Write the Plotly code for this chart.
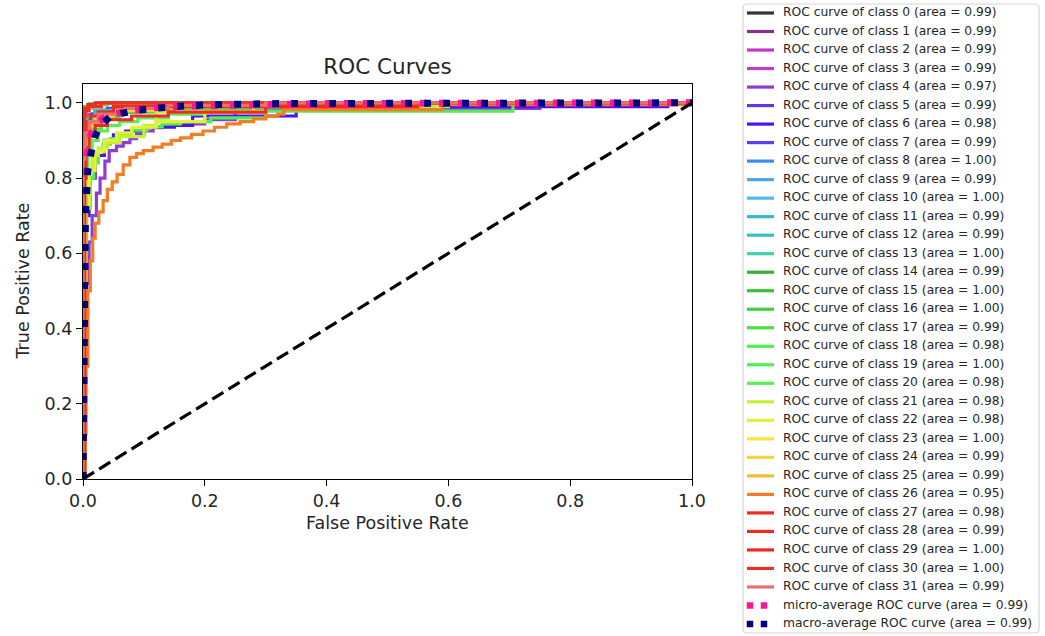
import plotly.graph_objects as go

# ---------------- data ----------------
class_areas = ["0.99", "0.99", "0.99", "0.99", "0.97", "0.99", "0.98", "0.99",
               "1.00", "0.99", "1.00", "0.99", "0.99", "1.00", "0.99", "1.00",
               "1.00", "0.99", "0.98", "1.00", "0.98", "0.98", "0.98", "1.00",
               "0.99", "0.99", "0.95", "0.98", "0.99", "1.00", "1.00", "0.99"]
micro_area = "0.99"
macro_area = "0.99"

fpr_0 = [0, 0, 0.005, 0.02, 0.06, 0.15, 1]
tpr_0 = [0, 0.9, 0.95, 0.97, 0.985, 1, 1]
fpr_1 = [0, 0, 0.003, 0.01, 0.03, 0.08, 0.2, 1]
tpr_1 = [0, 0.85, 0.93, 0.96, 0.98, 0.99, 1, 1]
fpr_2 = [0, 0, 0.002, 0.008, 0.02, 0.05, 0.12, 1]
tpr_2 = [0, 0.88, 0.94, 0.97, 0.98, 0.99, 1, 1]
fpr_3 = [0, 0, 0.004, 0.012, 0.04, 0.1, 0.25, 1]
tpr_3 = [0, 0.8, 0.9, 0.95, 0.975, 0.99, 1, 1]
fpr_4 = [0, 0, 0.005, 0.01, 0.015, 0.022, 0.028, 0.036, 0.043, 0.055, 0.066, 0.077,
         0.088, 0.1, 0.115, 0.13, 0.143, 0.2, 0.25, 0.75, 1]
tpr_4 = [0, 0.35, 0.52, 0.63, 0.7, 0.76, 0.8, 0.845, 0.873, 0.885, 0.894, 0.905,
         0.917, 0.925, 0.934, 0.94, 0.944, 0.955, 0.985, 1, 1]
fpr_5 = [0, 0, 0.003, 0.01, 0.025, 0.06, 0.15, 0.3, 1]
tpr_5 = [0, 0.8, 0.9, 0.94, 0.965, 0.98, 0.99, 1, 1]
fpr_6 = [0, 0, 0.004, 0.01, 0.02, 0.035, 0.05, 0.07, 0.1, 0.15, 0.18, 0.35, 0.96, 1]
tpr_6 = [0, 0.5, 0.7, 0.8, 0.86, 0.9, 0.915, 0.925, 0.935, 0.94, 0.965, 0.99, 1, 1]
fpr_7 = [0, 0, 0.002, 0.006, 0.015, 0.04, 0.1, 0.22, 1]
tpr_7 = [0, 0.86, 0.92, 0.95, 0.97, 0.985, 0.995, 1, 1]
fpr_8 = [0, 0, 0.001, 0.003, 0.01, 0.03, 1]
tpr_8 = [0, 0.95, 0.98, 0.99, 0.995, 1, 1]
fpr_9 = [0, 0, 0.003, 0.008, 0.02, 0.05, 0.12, 1]
tpr_9 = [0, 0.87, 0.93, 0.96, 0.975, 0.99, 1, 1]
fpr_10 = [0, 0, 0.002, 0.005, 0.015, 0.04, 1]
tpr_10 = [0, 0.93, 0.97, 0.985, 0.995, 1, 1]
fpr_11 = [0, 0, 0.004, 0.01, 0.03, 0.07, 0.18, 1]
tpr_11 = [0, 0.84, 0.92, 0.955, 0.975, 0.99, 1, 1]
fpr_12 = [0, 0, 0.002, 0.007, 0.02, 0.06, 0.15, 1]
tpr_12 = [0, 0.88, 0.935, 0.96, 0.98, 0.99, 1, 1]
fpr_13 = [0, 0, 0.001, 0.004, 0.012, 0.03, 1]
tpr_13 = [0, 0.94, 0.975, 0.99, 0.996, 1, 1]
fpr_14 = [0, 0, 0.003, 0.009, 0.025, 0.07, 0.2, 1]
tpr_14 = [0, 0.83, 0.91, 0.95, 0.975, 0.99, 1, 1]
fpr_15 = [0, 0, 0.002, 0.005, 0.012, 0.035, 1]
tpr_15 = [0, 0.92, 0.965, 0.985, 0.995, 1, 1]
fpr_16 = [0, 0, 0.001, 0.004, 0.01, 0.025, 1]
tpr_16 = [0, 0.95, 0.98, 0.99, 0.997, 1, 1]
fpr_17 = [0, 0, 0.004, 0.012, 0.03, 0.06, 0.12, 0.3, 1]
tpr_17 = [0, 0.78, 0.88, 0.93, 0.96, 0.975, 0.985, 1, 1]
fpr_18 = [0, 0, 0.006, 0.012, 0.018, 0.025, 0.033, 0.045, 0.06, 0.08, 0.105, 0.13,
          0.16, 0.21, 0.3, 0.706, 1]
tpr_18 = [0, 0.6, 0.72, 0.8, 0.84, 0.87, 0.89, 0.905, 0.917, 0.927, 0.936, 0.944,
          0.95, 0.96, 0.978, 1, 1]
fpr_19 = [0, 0, 0.002, 0.006, 0.015, 0.04, 1]
tpr_19 = [0, 0.92, 0.965, 0.985, 0.995, 1, 1]
fpr_20 = [0, 0, 0.003, 0.008, 0.015, 0.025, 0.04, 0.06, 0.09, 0.14, 0.2, 0.28, 0.5, 1]
tpr_20 = [0, 0.7, 0.8, 0.86, 0.9, 0.925, 0.94, 0.95, 0.96, 0.97, 0.975, 0.99, 1, 1]
fpr_21 = [0, 0, 0.003, 0.008, 0.015, 0.025, 0.04, 0.06, 0.1, 0.12, 0.3, 0.6, 1]
tpr_21 = [0, 0.65, 0.76, 0.82, 0.86, 0.88, 0.895, 0.91, 0.94, 0.975, 0.99, 1, 1]
fpr_22 = [0, 0.004, 0.01, 0.02, 0.035, 0.055, 0.08, 0.12, 0.2, 0.28, 1]
tpr_22 = [0, 0.72, 0.82, 0.87, 0.9, 0.92, 0.935, 0.95, 0.975, 1, 1]
fpr_23 = [0, 0, 0.002, 0.005, 0.012, 0.03, 1]
tpr_23 = [0, 0.93, 0.97, 0.985, 0.995, 1, 1]
fpr_24 = [0, 0, 0.003, 0.008, 0.02, 0.05, 0.12, 0.25, 1]
tpr_24 = [0, 0.82, 0.9, 0.94, 0.965, 0.98, 0.99, 1, 1]
fpr_25 = [0, 0, 0.003, 0.01, 0.025, 0.06, 0.15, 0.3, 1]
tpr_25 = [0, 0.84, 0.91, 0.945, 0.97, 0.985, 0.995, 1, 1]
fpr_26 = [0, 0.003, 0.005, 0.008, 0.012, 0.016, 0.02, 0.026, 0.033, 0.04, 0.048,
          0.056, 0.066, 0.077, 0.088, 0.099, 0.115, 0.13, 0.145, 0.16, 0.178, 0.197,
          0.216, 0.236, 0.258, 0.28, 0.3, 0.32, 0.33, 0.59, 1]
tpr_26 = [0, 0.12, 0.3, 0.5, 0.58, 0.64, 0.68, 0.71, 0.74, 0.77, 0.79,
          0.81, 0.835, 0.855, 0.865, 0.873, 0.882, 0.89, 0.9, 0.907, 0.916, 0.925,
          0.935, 0.944, 0.95, 0.957, 0.964, 0.97, 0.982, 0.995, 1]
fpr_27 = [0, 0.003, 0.005, 0.01, 0.02, 0.04, 0.08, 0.14, 0.3, 0.55, 1]
tpr_27 = [0, 0.8, 0.88, 0.92, 0.94, 0.955, 0.965, 0.975, 0.99, 1, 1]
fpr_28 = [0, 0, 0.003, 0.006, 0.012, 0.025, 0.05, 0.3, 1]
tpr_28 = [0, 0.85, 0.92, 0.95, 0.965, 0.975, 0.99, 1, 1]
fpr_29 = [0, 0, 0.001, 0.003, 0.008, 0.02, 1]
tpr_29 = [0, 0.94, 0.97, 0.985, 0.995, 1, 1]
fpr_30 = [0, 0, 0.002, 0.005, 0.01, 0.03, 1]
tpr_30 = [0, 0.93, 0.965, 0.98, 0.99, 1, 1]
fpr_31 = [0, 0, 0.003, 0.01, 0.025, 0.07, 0.14, 0.3, 1]
tpr_31 = [0, 0.85, 0.92, 0.95, 0.97, 0.985, 0.993, 1, 1]

micro_fpr = [0, 0.001, 0.003, 0.007, 0.014, 0.025, 0.04, 0.07, 0.11, 0.16, 0.25, 0.4, 1]
micro_tpr = [0, 0.55, 0.78, 0.87, 0.92, 0.95, 0.965, 0.978, 0.986, 0.991, 0.995, 0.998, 1]
macro_fpr = [0, 0.002, 0.004, 0.008, 0.017, 0.028, 0.046, 0.085, 0.115, 0.15, 0.21, 0.32, 1]
macro_tpr = [0, 0.45, 0.7, 0.82, 0.9, 0.94, 0.965, 0.98, 0.985, 0.99, 0.995, 0.998, 1]

chance_x = [0, 1]
chance_y = [0, 1]

x_ticks = [0.0, 0.2, 0.4, 0.6, 0.8, 1.0]
y_ticks = [0.0, 0.2, 0.4, 0.6, 0.8, 1.0]

class_fprs = [fpr_0, fpr_1, fpr_2, fpr_3, fpr_4, fpr_5, fpr_6, fpr_7, fpr_8, fpr_9,
              fpr_10, fpr_11, fpr_12, fpr_13, fpr_14, fpr_15, fpr_16, fpr_17, fpr_18,
              fpr_19, fpr_20, fpr_21, fpr_22, fpr_23, fpr_24, fpr_25, fpr_26, fpr_27,
              fpr_28, fpr_29, fpr_30, fpr_31]
class_tprs = [tpr_0, tpr_1, tpr_2, tpr_3, tpr_4, tpr_5, tpr_6, tpr_7, tpr_8, tpr_9,
              tpr_10, tpr_11, tpr_12, tpr_13, tpr_14, tpr_15, tpr_16, tpr_17, tpr_18,
              tpr_19, tpr_20, tpr_21, tpr_22, tpr_23, tpr_24, tpr_25, tpr_26, tpr_27,
              tpr_28, tpr_29, tpr_30, tpr_31]

# ---------------- styles ----------------
class_colors = ["#333333", "#87308a", "#c435c4", "#bf3cc8", "#8e3cd2", "#6236e2",
                "#4a14f2", "#5c3cf4", "#3a8ef2", "#48a8f2", "#4cbce8", "#38b6d0",
                "#38bec4", "#48cdb0", "#3aae3a", "#38c038", "#44d044", "#4ce040",
                "#50ee50", "#50ee50", "#5aee50", "#c2f234", "#e4f034", "#f6e43a",
                "#f8d23a", "#f8bc30", "#f47c24", "#ee2a22", "#ee2a22", "#ec2a22",
                "#ea3028", "#e87070"]
micro_color = "#ff1493"
macro_color = "#000080"
FONT = "DejaVu Sans"
TXT = "#262626"

W, H = 1045, 636
# main axes pixel box
PX_L, PX_R, PX_T, PX_B = 83, 692, 84, 479
# legend box pixel box
LG_L, LG_R, LG_T, LG_B = 743, 1039, 4, 633
ROW0, ROWSTEP = 13, 18.52


def fx(px):
    return px / W


def fy(py):
    return 1 - py / H


fig = go.Figure()

for i in range(len(class_fprs)):
    fig.add_trace(go.Scatter(
        x=class_fprs[i], y=class_tprs[i], mode="lines", line_shape="hv",
        line=dict(color=class_colors[i], width=3.2), showlegend=False,
        hoverinfo="skip", xaxis="x", yaxis="y"))

fig.add_trace(go.Scatter(x=micro_fpr, y=micro_tpr, mode="lines",
                         line=dict(color=micro_color, width=7, dash="7px,12px"),
                         showlegend=False, hoverinfo="skip"))
fig.add_trace(go.Scatter(x=macro_fpr, y=macro_tpr, mode="lines",
                         line=dict(color=macro_color, width=7, dash="7px,12px"),
                         showlegend=False, hoverinfo="skip"))
fig.add_trace(go.Scatter(x=chance_x, y=chance_y, mode="lines",
                         line=dict(color="black", width=3.2, dash="13px,6px"),
                         showlegend=False, hoverinfo="skip"))

# ---------------- hand-built legend (auxiliary axes) ----------------
labels = ["ROC curve of class %d (area = %s)" % (i, a) for i, a in enumerate(class_areas)]
labels += ["micro-average ROC curve (area = %s)" % micro_area,
           "macro-average ROC curve (area = %s)" % macro_area]
rows = list(range(len(labels)))

for i in range(len(class_areas)):
    fig.add_trace(go.Scatter(x=[4, 31], y=[rows[i], rows[i]], mode="lines",
                             line=dict(color=class_colors[i], width=3.2),
                             showlegend=False, hoverinfo="skip", xaxis="x2", yaxis="y2"))
n = len(class_areas)
fig.add_trace(go.Scatter(x=[7, 21], y=[rows[n], rows[n]], mode="markers",
                         marker=dict(color=micro_color, size=6.5, symbol="square"),
                         showlegend=False, hoverinfo="skip", xaxis="x2", yaxis="y2"))
fig.add_trace(go.Scatter(x=[7, 21], y=[rows[n + 1], rows[n + 1]], mode="markers",
                         marker=dict(color=macro_color, size=6.5, symbol="square"),
                         showlegend=False, hoverinfo="skip", xaxis="x2", yaxis="y2"))
fig.add_trace(go.Scatter(x=[40] * len(labels), y=rows, mode="text", text=labels,
                         textposition="middle right",
                         textfont=dict(family=FONT, size=12.3, color=TXT),
                         showlegend=False, hoverinfo="skip", xaxis="x2", yaxis="y2"))

half = (ROW0 - LG_T) / ROWSTEP
# rounded legend frame (paper coordinates)
rx, ry = 4 / W, 4 / H
x0, x1, y0, y1 = fx(LG_L), fx(LG_R), fy(LG_B), fy(LG_T)
frame_path = (f"M {x0 + rx},{y0} L {x1 - rx},{y0} Q {x1},{y0} {x1},{y0 + ry} "
              f"L {x1},{y1 - ry} Q {x1},{y1} {x1 - rx},{y1} "
              f"L {x0 + rx},{y1} Q {x0},{y1} {x0},{y1 - ry} "
              f"L {x0},{y0 + ry} Q {x0},{y0} {x0 + rx},{y0} Z")
fig.add_shape(type="path", xref="paper", yref="paper", path=frame_path,
              line=dict(color="#d6d6d6", width=1.2), fillcolor="rgba(0,0,0,0)")

axis_common = dict(showline=True, linecolor="black", linewidth=1.4, mirror=True,
                   ticks="outside", ticklen=6, tickwidth=1.4, tickcolor="black",
                   showgrid=False, zeroline=False, automargin=False,
                   tickfont=dict(family=FONT, size=17.5, color=TXT))

fig.update_layout(
    width=W, height=H, template="none",
    margin=dict(l=0, r=0, t=0, b=0),
    paper_bgcolor="white", plot_bgcolor="white",
    title=dict(text="ROC Curves", x=fx((PX_L + PX_R) / 2), y=fy(66),
               xanchor="center", yanchor="middle",
               font=dict(family=FONT, size=21.5, color=TXT)),
    xaxis=dict(domain=[fx(PX_L), fx(PX_R)], range=[0, 1], tickvals=x_ticks,
               tickformat=".1f", anchor="y", **axis_common),
    yaxis=dict(domain=[fy(PX_B), fy(PX_T)], range=[0, 1.05], tickvals=y_ticks,
               tickformat=".1f", anchor="x", **axis_common),
    xaxis2=dict(domain=[fx(LG_L), fx(LG_R)], range=[0, LG_R - LG_L], visible=False,
                anchor="y2", fixedrange=True),
    yaxis2=dict(domain=[fy(LG_B), fy(LG_T)],
                range=[len(labels) - 1 + half, -half], visible=False,
                anchor="x2", fixedrange=True),
    showlegend=False,
    annotations=[
        dict(text="False Positive Rate", xref="paper", yref="paper",
             x=fx((PX_L + PX_R) / 2), y=fy(523), xanchor="center", yanchor="middle",
             showarrow=False, font=dict(family=FONT, size=17.5, color=TXT)),
        dict(text="True Positive Rate", xref="paper", yref="paper",
             x=fx(22), y=fy((PX_T + PX_B) / 2), xanchor="center", yanchor="middle",
             textangle=-90, showarrow=False,
             font=dict(family=FONT, size=17.5, color=TXT)),
    ],
)

fig.write_html("out.html", config={"displayModeBar": False},
               post_script="document.body.style.margin='0px';")
